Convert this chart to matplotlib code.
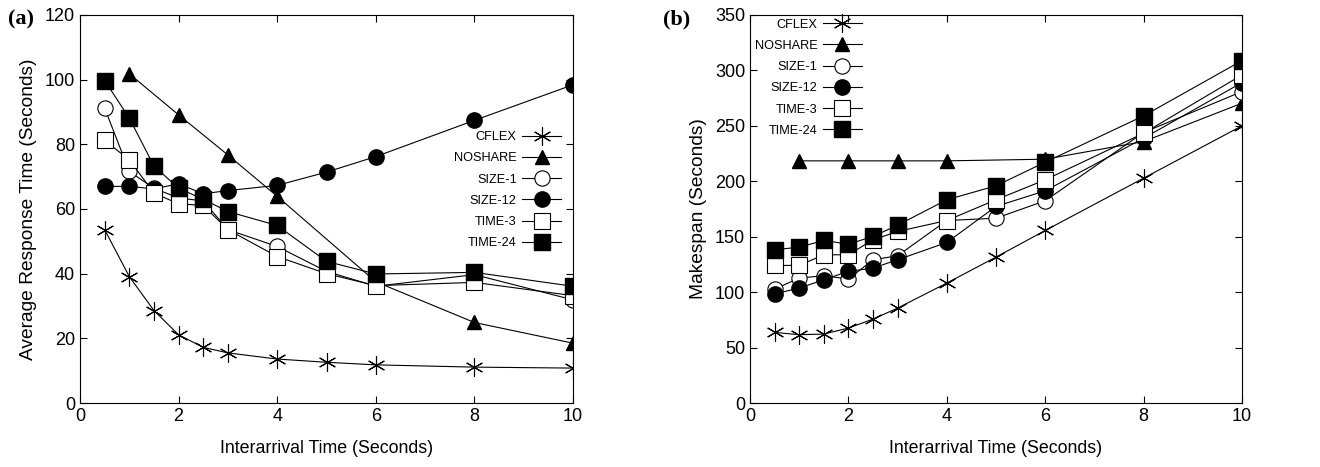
import numpy as np
import matplotlib.pyplot as plt

plt.rcParams['font.family'] = ['Liberation Sans', 'DejaVu Sans']

x_all = [0.5, 1, 1.5, 2, 2.5, 3, 4, 5, 6, 8, 10]
x_noshare = [1, 2, 3, 4, 6, 8, 10]

names = ["CFLEX", "NOSHARE", "SIZE-1", "SIZE-12", "TIME-3", "TIME-24"]

# (a) average response time
resp_cflex = [53.6, 39.1, 28.6, 21.1, 17.2, 15.5, 13.6, 12.6, 11.8, 11.1, 10.8]
resp_noshare = [101.8, 89.1, 76.7, 63.9, 37.5, 24.9, 18.5]
resp_size1 = [91.2, 71.6, 66.4, 63.4, 62.5, 53.6, 48.4, 40.7, 36.1, 39.7, 31.9]
resp_size12 = [67.0, 67.0, 66.2, 67.8, 64.7, 65.7, 67.3, 71.4, 76.2, 87.4, 98.4]
resp_time3 = [81.2, 75.2, 64.9, 61.6, 61.1, 53.6, 45.3, 40.0, 36.3, 37.3, 33.2]
resp_time24 = [99.7, 88.1, 73.3, 66.4, 63.0, 59.2, 54.9, 43.8, 39.9, 40.4, 36.1]

# (b) makespan
mk_cflex = [63.7, 61.6, 62.2, 67.6, 75.7, 85.6, 108.2, 131.6, 155.6, 202.8, 250.0]
mk_noshare = [218.4, 218.4, 218.4, 218.4, 219.9, 235.8, 270.4]
mk_size1 = [102.7, 112.7, 114.8, 111.8, 129.2, 132.8, 164.6, 166.7, 182.4, 244.0, 280.9]
mk_size12 = [98.5, 103.6, 111.2, 118.7, 121.7, 129.2, 144.8, 177.3, 191.4, 238.8, 289.0]
mk_time3 = [124.1, 124.1, 133.7, 133.7, 147.2, 154.7, 164.6, 183.3, 201.3, 243.3, 295.9]
mk_time24 = [138.2, 140.6, 146.6, 143.3, 150.2, 160.4, 183.3, 195.9, 217.2, 259.0, 308.8]

styles = [
    dict(marker=(6, 2, 0), ms=13, mfc='none', mec='black', mew=0.8),
    dict(marker='^', ms=10, mfc='black', mec='black'),
    dict(marker='o', ms=11, mfc='white', mec='black', mew=0.8),
    dict(marker='o', ms=11, mfc='black', mec='black'),
    dict(marker='s', ms=11, mfc='white', mec='black', mew=0.8),
    dict(marker='s', ms=11, mfc='black', mec='black'),
]

fig = plt.figure(figsize=(13.2, 4.67), dpi=100)
ax1 = fig.add_axes([0.0606, 0.137, 0.3735, 0.831])
ax2 = fig.add_axes([0.5682, 0.137, 0.3727, 0.831])


def draw(ax, series, ylim, yticks, ylabel, legend_loc, anchor):
    xs = [x_all, x_noshare, x_all, x_all, x_all, x_all]
    for name, xv, yv, st in zip(names, xs, series, styles):
        ax.plot(xv, yv, color='black', lw=0.8, label=name, **st)
    ax.set_xlim(0, 10)
    ax.set_ylim(*ylim)
    ax.set_xticks(range(0, 11, 2))
    ax.set_yticks(yticks)
    ax.tick_params(direction='in', top=True, right=True, labelsize=13, length=5)
    ax.set_xlabel("Interarrival Time (Seconds)", fontsize=12.8, labelpad=11)
    ax.set_ylabel(ylabel, fontsize=13.8, labelpad=6)
    ax.legend(loc=legend_loc, bbox_to_anchor=anchor, frameon=False, markerfirst=False,
              fontsize=9.2, handlelength=3.1, labelspacing=0.72, handletextpad=0.4,
              borderaxespad=0.2)


draw(ax1, [resp_cflex, resp_noshare, resp_size1, resp_size12, resp_time3, resp_time24],
     (0, 120), range(0, 121, 20), "Average Response Time (Seconds)",
     'upper right', (0.992, 0.72))
draw(ax2, [mk_cflex, mk_noshare, mk_size1, mk_size12, mk_time3, mk_time24],
     (0, 350), range(0, 351, 50), "Makespan (Seconds)",
     'upper left', (-0.006, 1.01))

fig.text(0.006, 0.98, "(a)", fontsize=16, fontweight='bold',
         family=['Liberation Serif', 'DejaVu Serif'], va='top')
fig.text(0.502, 0.98, "(b)", fontsize=16, fontweight='bold',
         family=['Liberation Serif', 'DejaVu Serif'], va='top')

fig.savefig("out.png", dpi=100)
